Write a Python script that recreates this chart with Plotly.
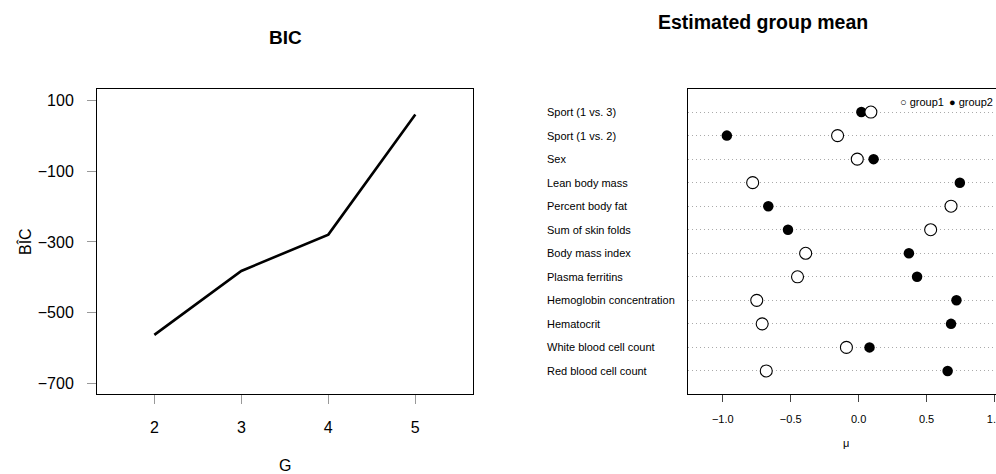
import plotly.graph_objects as go

# ---- data ----
G = [2, 3, 4, 5]
bic = [-563, -382, -279, 61]

variables = ["Red blood cell count", "White blood cell count", "Hematocrit",
             "Hemoglobin concentration", "Plasma ferritins", "Body mass index",
             "Sum of skin folds", "Percent body fat", "Lean body mass", "Sex",
             "Sport (1 vs. 2)", "Sport (1 vs. 3)"]
group1 = [-0.68, -0.09, -0.71, -0.75, -0.45, -0.39, 0.53, 0.68, -0.78, -0.01, -0.155, 0.09]
group2 = [0.655, 0.08, 0.68, 0.72, 0.43, 0.37, -0.52, -0.665, 0.745, 0.11, -0.97, 0.02]
bic_ticks = [100, -100, -300, -500, -700]
mu_ticks = [-1.0, -0.5, 0.0, 0.5, 1.0]

W, H = 996, 474
FONT = "Liberation Sans, Arial, sans-serif"

def px(x):
    return x / W

def py(y):
    return 1 - y / H

ypos = list(range(1, len(variables) + 1))

fig = go.Figure()
fig.add_trace(go.Scatter(x=G, y=bic, mode="lines", line=dict(color="black", width=2.6),
                         xaxis="x", yaxis="y", showlegend=False))
fig.add_trace(go.Scatter(x=group2, y=ypos, mode="markers",
                         marker=dict(symbol="circle", size=10.5, color="black"),
                         xaxis="x2", yaxis="y2", showlegend=False))
fig.add_trace(go.Scatter(x=group1, y=ypos, mode="markers",
                         marker=dict(symbol="circle", size=12, color="white",
                                     line=dict(color="black", width=1.1)),
                         xaxis="x2", yaxis="y2", showlegend=False))

def ann(text, x, y, size, **kw):
    d = dict(text=text, x=px(x), y=py(y), xref="paper", yref="paper",
             xanchor="center", yanchor="middle", showarrow=False,
             font=dict(size=size, color="black", family=FONT))
    d.update(kw)
    return d

annotations = [
    ann("<b>BIC</b>", 285, 37, 19),
    ann("<b>Estimated group mean</b>", 763, 22, 19.5),
    ann("BÎC", 25, 242, 16, textangle=-90),
    ann("G", 285, 465, 16),
    ann("μ", 846, 443, 11),
    ann("○ group1", 898, 102.5, 11, xanchor="left"),
    ann("● group2", 947, 102.5, 11, xanchor="left"),
]
for v, yv in zip(variables, ypos):
    annotations.append(dict(text=v, x=px(545), y=yv, xref="paper", yref="y2",
                            xanchor="left", yanchor="middle", showarrow=False,
                            font=dict(size=11, color="black", family=FONT)))

fig.update_layout(
    width=W, height=H,
    margin=dict(l=0, r=0, t=0, b=0, autoexpand=False),
    paper_bgcolor="white", plot_bgcolor="white",
    font=dict(family=FONT, color="black"),
    showlegend=False,
    annotations=annotations,
    xaxis=dict(domain=[px(97), px(473)], range=[1.341, 5.663], tickvals=G,
               ticks="outside", ticklen=9, tickcolor="#999", tickwidth=1,
               ticklabelstandoff=10, automargin=False,
               tickfont=dict(size=16, color="black"), showgrid=False, zeroline=False,
               showline=True, linecolor="black", linewidth=1, mirror=True),
    yaxis=dict(domain=[py(394), py(89)], range=[-730.3, 133.1], tickvals=bic_ticks,
               ticks="outside", ticklen=9, tickcolor="#999", tickwidth=1,
               ticklabelstandoff=10, automargin=False,
               tickfont=dict(size=16, color="black"), showgrid=False, zeroline=False,
               showline=True, linecolor="black", linewidth=1, mirror=True),
    xaxis2=dict(domain=[px(688), 1.0], range=[-1.256, 1.011], tickvals=mu_ticks,
                tickformat=".1f", anchor="y2", automargin=False,
                ticklabeloverflow="allow",
                ticks="outside", ticklen=7, tickcolor="#444", tickwidth=1,
                ticklabelstandoff=8,
                tickfont=dict(size=11, color="black"), showgrid=False, zeroline=False,
                showline=True, linecolor="black", linewidth=1, mirror=True),
    yaxis2=dict(domain=[py(394), py(89)], range=[0.02, 12.98], tickvals=ypos,
                showticklabels=False, ticks="", anchor="x2", automargin=False,
                showgrid=True, gridcolor="#aaaaaa", griddash="1px,3px", gridwidth=1,
                zeroline=False,
                showline=True, linecolor="black", linewidth=1, mirror=True),
)

fig.write_html("out.html",
               config={"displayModeBar": False},
               post_script="document.body.style.margin='0px';document.body.style.overflow='hidden';")
